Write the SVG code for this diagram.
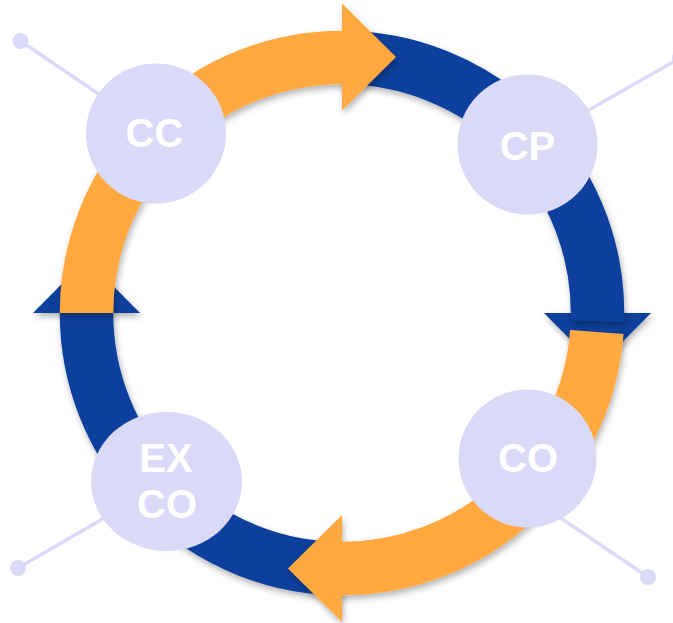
<svg xmlns="http://www.w3.org/2000/svg" width="673" height="623" viewBox="0 0 673 623">
  <defs>
    <filter id="sh" x="-20%" y="-20%" width="140%" height="140%">
      <feDropShadow dx="1.5" dy="3.5" stdDeviation="3" flood-color="#000" flood-opacity="0.3"/>
    </filter>
    <style>
      .band{fill:none;stroke-width:53.5;stroke-linecap:butt}
      .blue{stroke:#0A409C}
      .orange{stroke:#FFA940}
      .bluef{fill:#0A409C}
      .orangef{fill:#FFA940}
      .node{fill:#DADAF8}
      .link{stroke:#DADAF8;stroke-width:3.5;fill:none}
      .dot{fill:#DADAF8}
      .lbl{font-family:"Liberation Sans",Arial,sans-serif;font-weight:bold;font-size:40px;fill:#FFFFFF;text-anchor:middle}
    </style>
  </defs>
  <rect width="673" height="623" fill="#FFFFFF"/>

  <g id="connectors">
    <line class="link" x1="20.5" y1="41" x2="156" y2="133"/>
    <circle class="dot" cx="20.5" cy="41" r="8"/>
    <line class="link" x1="680" y1="58" x2="527.5" y2="145"/>
    <circle class="dot" cx="680" cy="58" r="8"/>
    <line class="link" x1="18" y1="568" x2="166.5" y2="482"/>
    <circle class="dot" cx="18" cy="568" r="8"/>
    <line class="link" x1="648" y1="577" x2="540" y2="504"/>
    <circle class="dot" cx="648" cy="577" r="8"/>
  </g>

  <g id="ring">
    <!-- blue segment 12 -> 3 o'clock -->
    <g filter="url(#sh)">
      <polygon class="bluef" points="544,313 651,313 597.5,367"/>
    </g>
    <g filter="url(#sh)">
      <path class="band blue" d="M 342 57.5 A 255.5 255.5 0 0 1 597.4 321"/>
    </g>
    <!-- blue segment 6 -> 9 o'clock -->
    <g filter="url(#sh)">
      <polygon class="bluef" points="33,313 140,313 86.5,259"/>
    </g>
    <g filter="url(#sh)">
      <path class="band blue" d="M 342 568.5 A 255.5 255.5 0 0 1 86.5 313"/>
    </g>
    <!-- orange segment 9 -> 12 o'clock -->
    <g filter="url(#sh)">
      <path class="band orange" d="M 86.5 313 A 255.5 255.5 0 0 1 343 57.5"/>
      <polygon class="orangef" points="342,3.5 396,57 342,110.5"/>
    </g>
    <!-- orange segment 3 -> 6 o'clock -->
    <g filter="url(#sh)">
      <path class="band orange" d="M 596.8 332 A 255.5 255.5 0 0 1 341 568.5"/>
      <polygon class="orangef" points="342,515 288,568.5 342,622"/>
    </g>
  </g>

  <g id="node-cc">
    <circle class="node" cx="156" cy="133.5" r="70"/>
    <text class="lbl" x="154.5" y="147">CC</text>
  </g>
  <g id="node-cp">
    <circle class="node" cx="527.5" cy="144.5" r="70"/>
    <text class="lbl" x="527.5" y="159.5">CP</text>
  </g>
  <g id="node-co">
    <circle class="node" cx="527.5" cy="458.5" r="69"/>
    <text class="lbl" x="528" y="472">CO</text>
  </g>
  <g id="node-exco">
    <ellipse class="node" cx="166.5" cy="481.5" rx="75.5" ry="69.5"/>
    <text class="lbl" x="166" y="472">EX</text>
    <text class="lbl" x="167" y="517.5">CO</text>
  </g>
</svg>
